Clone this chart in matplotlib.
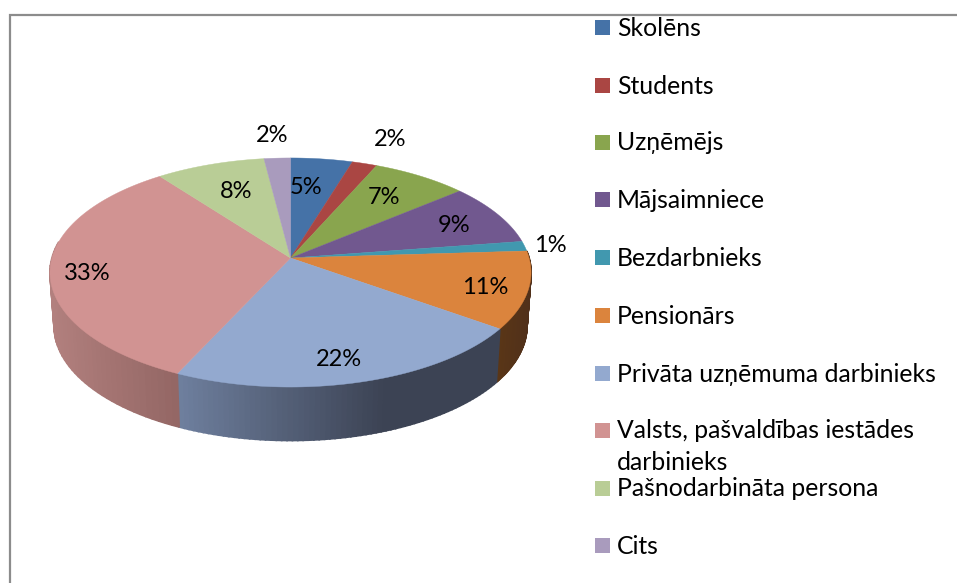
import numpy as np
import matplotlib
matplotlib.use("Agg")
import matplotlib.pyplot as plt
from matplotlib.colors import to_rgb

categories = ["Skolēns", "Students", "Uzņēmējs", "Mājsaimniece", "Bezdarbnieks", "Pensionārs",
              "Privāta uzņēmuma darbinieks", "Valsts, pašvaldības iestādes\ndarbinieks",
              "Pašnodarbināta persona", "Cits"]
# read from the slice boundaries, labels show them rounded
values = [4.7, 1.9, 7.3, 8.7, 1.4, 10.9, 22.0, 32.8, 8.3, 2.0]
colors = ["#4572A7", "#AA4643", "#89A54E", "#71588F", "#4198AF",
          "#DB843D", "#93A9CF", "#D19392", "#B9CD96", "#A99BBD"]

# side wall colours, left end / right end of the slice
wall_left = {5: "#5A3617", 6: "#6F809F", 7: "#B2807E"}
wall_right = {5: "#50301A", 6: "#3C4354", 7: "#946765"}

label_pos = [(306, 187), (390, 139), (384, 197), (454, 225), (550, 246),
             (485, 287), (339, 360), (87, 274), (236, 192), (272, 136)]
legend_y = [27, 85, 142, 199, 257, 315, 373, 430, 488, 545]

# pie geometry in pixels
cx, cy = 290.5, 258
rx, ry, k = 238.6, 112.7, 0.1266
depth = 53.5
shrink = 0.983


def project(t):
    # circle -> ellipse with a bit of perspective, centre stays at cx, cy
    d = 1 + k * np.sin(t)
    return cx + rx * np.cos(t) / d, cy - ry * np.sin(t) / d


plt.rcParams["font.family"] = ["Lato", "DejaVu Sans"]
fig = plt.figure(figsize=(9.57, 5.83), dpi=100)
ax = fig.add_axes([0, 0, 1, 1])
ax.set_xlim(0, 957)
ax.set_ylim(583, 0)
ax.axis("off")

# chart frame, only top and left are visible
ax.plot([10, 10, 957], [583, 15, 15], color="#8C8C8C", lw=1.6, solid_joinstyle="miter")

total = sum(values)
cum = np.concatenate([[0], np.cumsum(values)])
starts = np.pi / 2 - 2 * np.pi * cum[:-1] / total
ends = np.pi / 2 - 2 * np.pi * cum[1:] / total

# side walls
for i in wall_left:
    t = np.linspace(starts[i], ends[i], 70)
    x, y = project(t)
    xb = cx + (x - cx) * shrink
    yb = y + depth
    c1 = np.array(to_rgb(wall_left[i]))
    c2 = np.array(to_rgb(wall_right[i]))
    lo, hi = x.min(), x.max()
    for j in range(len(t) - 1):
        # stop at the far side, the top covers the rest
        if np.sin(t[j]) > 0.12:
            continue
        f = min(1, ((x[j] - lo) / (hi - lo)) * (1.55 if i == 6 else 1))
        col = c1 + (c2 - c1) * f
        ax.fill([x[j], x[j + 1], xb[j + 1], xb[j]], [y[j], y[j + 1], yb[j + 1], yb[j]],
                color=col, lw=1.2, zorder=2)

# top of the pie
for i in range(len(values)):
    t = np.linspace(starts[i], ends[i], 80)
    x, y = project(t)
    ax.fill(np.r_[cx, x], np.r_[cy, y], color=colors[i], lw=0.3, zorder=3)

for v, (lx, ly) in zip(values, label_pos):
    ax.text(lx, ly, f"{v:.0f}%", fontsize=17, ha="center", va="center", color="black", zorder=5)

# legend
for name, col, ly in zip(categories, colors, legend_y):
    ax.fill([595, 610, 610, 595], [ly - 7.5, ly - 7.5, ly + 7.5, ly + 7.5], color=col, lw=0)
    if "\n" in name:
        first, second = name.split("\n")
        ax.text(617, ly + 1, first, fontsize=17.8, va="center", ha="left", color="black")
        ax.text(617, ly + 33, second, fontsize=17.8, va="center", ha="left", color="black")
    else:
        ax.text(617, ly + 1, name, fontsize=17.8, va="center", ha="left", color="black")

fig.savefig("out.png", dpi=100)
